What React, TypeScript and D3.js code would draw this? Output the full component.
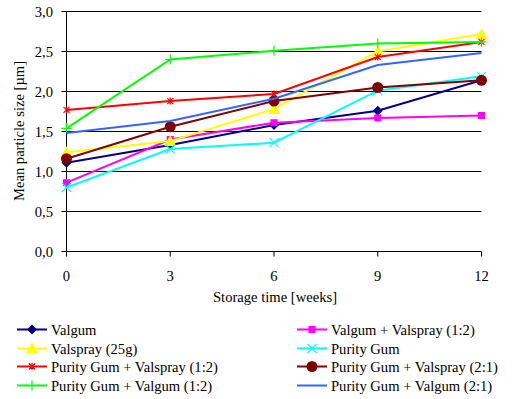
import React from "react";
import * as d3 from "d3";

// weeks on x axis
const weeks = [0, 3, 6, 9, 12];
const yTicks = [0, 0.5, 1, 1.5, 2, 2.5, 3];

// series values (µm)
const valgum = [1.11, 1.33, 1.58, 1.76, 2.14];
const valgumValspray12 = [0.86, 1.4, 1.61, 1.67, 1.7];
const valspray25g = [1.24, 1.38, 1.78, 2.5, 2.72];
const purityGum = [0.8, 1.28, 1.36, 2.01, 2.19];
const pgValspray12 = [1.77, 1.88, 1.97, 2.43, 2.62];
const pgValspray21 = [1.16, 1.56, 1.88, 2.05, 2.14];
const pgValgum12 = [1.54, 2.4, 2.51, 2.6, 2.62];
const pgValgum21 = [1.48, 1.63, 1.91, 2.33, 2.48];

type Marker = "diamond" | "square" | "triangle" | "x" | "star" | "circle" | "plus" | "none";

const series: { name: string; color: string; marker: Marker; values: number[] }[] = [
  { name: "Valgum", color: "#000080", marker: "diamond", values: valgum },
  { name: "Valgum + Valspray (1:2)", color: "#ff00ff", marker: "square", values: valgumValspray12 },
  { name: "Valspray (25g)", color: "#ffff00", marker: "triangle", values: valspray25g },
  { name: "Purity Gum", color: "#00ffff", marker: "x", values: purityGum },
  { name: "Purity Gum + Valspray (1:2)", color: "#ff0000", marker: "star", values: pgValspray12 },
  { name: "Purity Gum + Valspray (2:1)", color: "#800000", marker: "circle", values: pgValspray21 },
  { name: "Purity Gum + Valgum (1:2)", color: "#00ff00", marker: "plus", values: pgValgum12 },
  { name: "Purity Gum + Valgum (2:1)", color: "#3366ff", marker: "none", values: pgValgum21 },
];

const FONT = '"Liberation Serif", "Times New Roman", Times, serif';
const FS = 14.6;

function MarkerShape({ type, x, y, color }: { type: Marker; x: number; y: number; color: string }) {
  switch (type) {
    case "diamond":
      return <path d={`M${x},${y - 5}L${x + 5},${y}L${x},${y + 5}L${x - 5},${y}Z`} fill={color} />;
    case "square":
      return <rect x={x - 3.5} y={y - 3.5} width={7} height={7} fill={color} />;
    case "triangle":
      return <path d={`M${x},${y - 6}L${x + 6},${y + 5}L${x - 6},${y + 5}Z`} fill={color} />;
    case "x":
      return (
        <path d={`M${x - 4.5},${y - 4.5}L${x + 4.5},${y + 4.5}M${x + 4.5},${y - 4.5}L${x - 4.5},${y + 4.5}`} stroke={color} strokeWidth={1.2} />
      );
    case "star":
      return (
        <path
          d={`M${x - 3},${y - 3}L${x + 3},${y + 3}M${x + 3},${y - 3}L${x - 3},${y + 3}M${x},${y - 3.5}L${x},${y + 3.5}`}
          stroke={color}
          strokeWidth={1.2}
        />
      );
    case "circle":
      return <circle cx={x} cy={y} r={5.5} fill={color} />;
    case "plus":
      return <path d={`M${x - 5},${y}L${x + 5},${y}M${x},${y - 5}L${x},${y + 5}`} stroke={color} strokeWidth={1.2} />;
    default:
      return null;
  }
}

export default function App() {
  const width = 520;
  const height = 399;

  const x = d3.scaleLinear().domain([0, 12]).range([66.5, 481.5]);
  const y = d3.scaleLinear().domain([0, 3]).range([251.5, 11.5]);

  const line = d3
    .line<number>()
    .x((_, i) => x(weeks[i]))
    .y((d) => y(d));

  return (
    <svg
      width={width}
      height={height}
      style={{ position: "absolute", left: 0, top: 0, background: "#fff", fontFamily: FONT }}
    >
      {/* grid lines */}
      {yTicks.map((t) => (
        <g key={t}>
          <line x1={x(0) - 5} x2={x(12)} y1={y(t)} y2={y(t)} stroke="#000" strokeWidth={1} />
          <text x={53} y={y(t)} dy="0.35em" textAnchor="end" fontSize={FS}>
            {t.toFixed(1).replace(".", ",")}
          </text>
        </g>
      ))}
      {/* y axis */}
      <line x1={x(0)} x2={x(0)} y1={y(3)} y2={y(0)} stroke="#000" />
      {/* x ticks */}
      {weeks.map((w) => (
        <g key={w}>
          <line x1={x(w)} x2={x(w)} y1={y(0)} y2={y(0) + 5} stroke="#000" />
          <text x={x(w)} y={280.5} textAnchor="middle" fontSize={FS}>
            {w}
          </text>
        </g>
      ))}
      <text x={275} y={302} textAnchor="middle" fontSize={FS}>
        Storage time [weeks]
      </text>
      <text transform={`translate(24,131) rotate(-90)`} textAnchor="middle" fontSize={FS}>
        Mean particle size [µm]
      </text>

      {/* series */}
      {series.map((s) => (
        <g key={s.name}>
          <path d={line(s.values) || ""} fill="none" stroke={s.color} strokeWidth={2} />
          {s.values.map((v, i) => (
            <MarkerShape key={i} type={s.marker} x={x(weeks[i])} y={y(v)} color={s.color} />
          ))}
        </g>
      ))}

      {/* legend */}
      {series.map((s, i) => {
        const col = i % 2;
        const row = Math.floor(i / 2);
        const lx = col === 0 ? 17 : 297;
        const ly = [329.5, 348.5, 366.5, 385.5][row];
        return (
          <g key={s.name}>
            <line x1={lx} x2={lx + 30} y1={ly} y2={ly} stroke={s.color} strokeWidth={2} />
            <MarkerShape type={s.marker} x={lx + 15} y={ly} color={s.color} />
            <text x={lx + 34} y={ly} dy="0.35em" fontSize={FS}>
              {s.name}
            </text>
          </g>
        );
      })}
    </svg>
  );
}
